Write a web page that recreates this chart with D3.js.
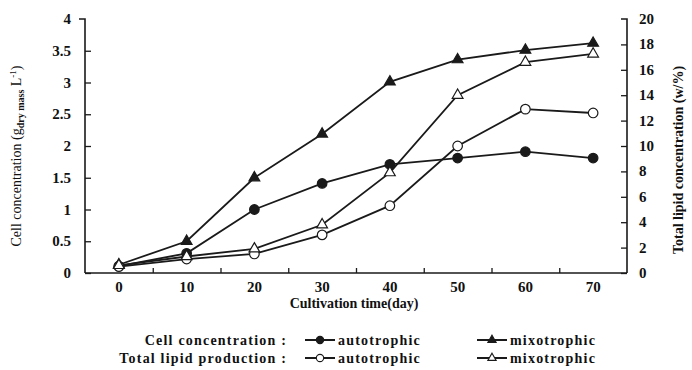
<!DOCTYPE html>
<html>
<head>
<meta charset="utf-8">
<script src="https://cdn.jsdelivr.net/npm/d3@7"></script>
<style>
  html, body { margin: 0; padding: 0; background: #fff; }
  svg { display: block; }
  text { font-family: "Liberation Serif", "DejaVu Serif", serif; fill: #111; }
</style>
</head>
<body>
<svg id="chart" width="692" height="370"></svg>
<script>
// Cultivation days
const days = [0, 10, 20, 30, 40, 50, 60, 70];
// Cell concentration (g dry mass / L), left axis
const cellAuto = [0.11, 0.31, 1.0, 1.41, 1.71, 1.81, 1.91, 1.81];
const cellMixo = [0.13, 0.5, 1.5, 2.19, 3.01, 3.36, 3.51, 3.62];
// Total lipid concentration (w/%), right axis
const lipidAuto = [0.5, 1.1, 1.5, 3.0, 5.3, 10.0, 12.9, 12.6];
const lipidMixo = [0.6, 1.3, 1.9, 3.8, 7.9, 14.0, 16.6, 17.25];
// Tick values
const xTickLabels = [0, 10, 20, 30, 40, 50, 60, 70];
const xTickMarks = [5, 15, 25, 35, 45, 55, 65];
const leftTicks = [0, 0.5, 1, 1.5, 2, 2.5, 3, 3.5, 4];
const rightTicks = [0, 2, 4, 6, 8, 10, 12, 14, 16, 18, 20];

const svg = d3.select("#chart");
const L = 85, R = 627, T = 19, B = 273;

const x = d3.scaleLinear().domain([-5, 75]).range([L, R]);
const yL = d3.scaleLinear().domain([0, 4]).range([B, T]);
const yR = d3.scaleLinear().domain([0, 20]).range([B, T]);

const ink = "#1a1a1a";

// Axes: ticks point inward
const gx = svg.append("g").attr("transform", `translate(0,${B})`)
  .call(d3.axisBottom(x).tickValues(xTickMarks).tickSize(-5).tickFormat(""));
const gl = svg.append("g").attr("transform", `translate(${L},0)`)
  .call(d3.axisLeft(yL).tickValues(leftTicks).tickSize(-6).tickFormat(""));
const gr = svg.append("g").attr("transform", `translate(${R},0)`)
  .call(d3.axisRight(yR).tickValues(rightTicks).tickSize(-6).tickFormat(""));
[gx, gl, gr].forEach(g => {
  g.select(".domain").attr("stroke", ink).attr("stroke-width", 1.6);
  g.selectAll(".tick line").attr("stroke", ink).attr("stroke-width", 1.3);
});
gx.select(".domain").attr("d", `M${L},0H${R}`);
gl.select(".domain").attr("d", `M-6,${T}H0V${B}`).attr("fill", "none");
gl.selectAll(".tick").filter(d => d === 4).remove();
gr.select(".domain").attr("d", `M-6,${T}H0V${B}`).attr("fill", "none");
gr.selectAll(".tick").filter(d => d === 20).remove();

// Tick labels
svg.append("g").selectAll("text").data(xTickLabels).join("text")
  .attr("x", d => x(d)).attr("y", B + 19)
  .attr("text-anchor", "middle").attr("font-size", 15).attr("font-weight", "bold")
  .text(d => d);
svg.append("g").selectAll("text").data(leftTicks).join("text")
  .attr("x", L - 14).attr("y", d => yL(d) + 5)
  .attr("text-anchor", "end").attr("font-size", 15).attr("font-weight", "bold")
  .text(d => d);
svg.append("g").selectAll("text").data(rightTicks).join("text")
  .attr("x", R + 12).attr("y", d => yR(d) + 5)
  .attr("text-anchor", "start").attr("font-size", 15).attr("font-weight", "bold")
  .text(d => d);

// Axis titles
svg.append("text")
  .attr("transform", `translate(${(L + R) / 2 - 2},${B + 35})`)
  .attr("text-anchor", "middle").attr("font-size", 14).attr("font-weight", "bold")
  .text("Cultivation time(day)");

const lt = svg.append("text")
  .attr("transform", `translate(21,${(T + B) / 2 + 10}) rotate(-90)`)
  .attr("text-anchor", "middle").attr("font-size", 14);
lt.append("tspan").text("Cell concentration (g");
lt.append("tspan").attr("font-size", 10).attr("dy", 3).attr("font-weight", "bold").text("dry mass");
lt.append("tspan").attr("dy", -3).text(" L");
lt.append("tspan").attr("font-size", 9).attr("dy", -5).text("-1");
lt.append("tspan").attr("dy", 5).text(")");

svg.append("text")
  .attr("transform", `translate(683,${(T + B) / 2 + 14}) rotate(-90)`)
  .attr("text-anchor", "middle").attr("font-size", 14).attr("font-weight", "bold")
  .text("Total lipid concentration (w/%)");

// Series
const series = [
  { vals: cellAuto, y: yL, shape: "circle", fill: ink },
  { vals: cellMixo, y: yL, shape: "triangle", fill: ink },
  { vals: lipidAuto, y: yR, shape: "circle", fill: "#fff" },
  { vals: lipidMixo, y: yR, shape: "triangle", fill: "#fff" }
];
const symCircle = d3.symbol().type(d3.symbolCircle).size(72);
const symTri = d3.symbol().type(d3.symbolTriangle).size(50);

const plot = svg.append("g");
series.forEach(s => {
  const pts = days.map((d, i) => [x(d), s.y(s.vals[i])]);
  plot.append("path").datum(pts)
    .attr("d", d3.line())
    .attr("fill", "none").attr("stroke", ink).attr("stroke-width", 1.8);
});
series.forEach(s => {
  plot.append("g").selectAll("path").data(days).join("path")
    .attr("transform", (d, i) => `translate(${x(d)},${s.y(s.vals[i])})`)
    .attr("d", s.shape === "circle" ? symCircle : symTri)
    .attr("fill", s.fill).attr("stroke", ink).attr("stroke-width", 1.2);
});

// Legend
const legendRows = [
  { label: "Cell concentration :", y: 340, fill: ink },
  { label: "Total lipid production :", y: 358, fill: "#fff" }
];
const legendCols = [
  { x0: 305, name: "autotrophic", shape: "circle" },
  { x0: 477, name: "mixotrophic", shape: "triangle" }
];
const lg = svg.append("g");
legendRows.forEach(r => {
  lg.append("text").attr("x", 287).attr("y", r.y + 5)
    .attr("text-anchor", "end").attr("font-size", 14).attr("font-weight", "bold")
    .attr("letter-spacing", 1.2).text(r.label);
  legendCols.forEach(c => {
    lg.append("line").attr("x1", c.x0).attr("x2", c.x0 + 30).attr("y1", r.y).attr("y2", r.y)
      .attr("stroke", ink).attr("stroke-width", 2);
    lg.append("path").attr("transform", `translate(${c.x0 + 15},${r.y})`)
      .attr("d", c.shape === "circle" ? d3.symbol().type(d3.symbolCircle).size(42)
                                      : d3.symbol().type(d3.symbolTriangle).size(30))
      .attr("fill", r.fill).attr("stroke", ink).attr("stroke-width", 1.1);
    lg.append("text").attr("x", c.x0 + 33).attr("y", r.y + 5)
      .attr("font-size", 14).attr("font-weight", "bold").attr("letter-spacing", 1.2)
      .text(c.name);
  });
});
</script>
</body>
</html>
